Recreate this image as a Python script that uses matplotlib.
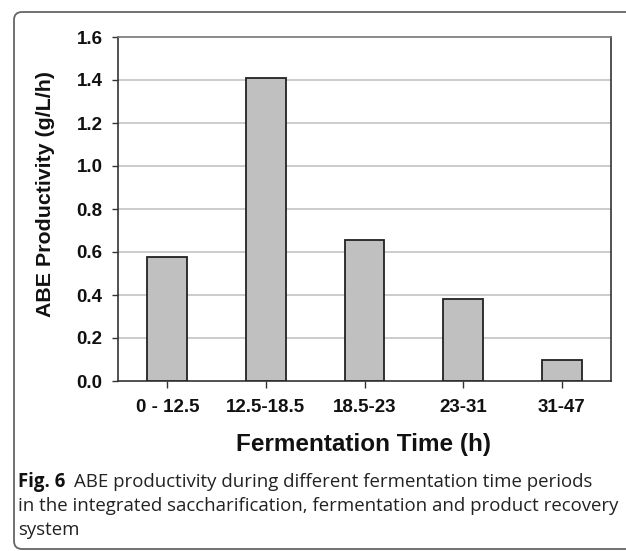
import matplotlib
matplotlib.use("Agg")
import matplotlib.pyplot as plt
from matplotlib.patches import FancyBboxPatch
from matplotlib.transforms import IdentityTransform
import numpy as np

categories = ["0 - 12.5", "12.5-18.5", "18.5-23", "23-31", "31-47"]
productivity = [0.577, 1.411, 0.654, 0.380, 0.097]
yticks = [0.0, 0.2, 0.4, 0.6, 0.8, 1.0, 1.2, 1.4, 1.6]
xlabel = "Fermentation Time (h)"
ylabel = "ABE Productivity (g/L/h)"
cap_bold = "Fig. 6"
cap_line1 = "ABE productivity during different fermentation time periods"
cap_line2 = "in the integrated saccharification, fermentation and product recovery"
cap_line3 = "system"

W, H = 626, 551
fig = plt.figure(figsize=(W / 100, H / 100), dpi=100)
fig.patch.set_facecolor("white")

# rounded frame (pixel coords)
frame = FancyBboxPatch((14, 2), 700, 537, boxstyle="round,pad=0,rounding_size=8",
                       transform=IdentityTransform(), facecolor="none",
                       edgecolor="#666666", linewidth=1.3)
fig.patches.append(frame)

ax_l, ax_r, ax_t, ax_b = 118, 611, 37, 381
ax = fig.add_axes([ax_l / W, 1 - ax_b / H, (ax_r - ax_l) / W, (ax_b - ax_t) / H])
x = np.arange(len(categories))
ax.bar(x, productivity, width=0.405, color="#c0c0c0", edgecolor="#222222",
       linewidth=1.3, zorder=3)
ax.set_xlim(-0.5, len(categories) - 0.5)
ax.set_ylim(0, 1.6)
ax.set_yticks(yticks)
ax.set_yticklabels([f"{v:.1f}" for v in yticks])
ax.set_xticks(x)
ax.set_xticklabels(categories)
for v in yticks[1:-1]:
    ax.axhline(v, color="#c8c8c8", linewidth=1.3, zorder=1)
for s in ax.spines.values():
    s.set_color("#333333")
    s.set_linewidth(1.2)
ax.spines["top"].set_color("#777777")
ax.tick_params(axis="y", direction="out", length=4, width=1, color="#333333", pad=7)
ax.tick_params(axis="x", direction="out", length=5, width=1, color="#333333", pad=8)
for lab in ax.get_xticklabels() + ax.get_yticklabels():
    lab.set_fontfamily("Liberation Sans")
    lab.set_fontweight("bold")
    lab.set_fontsize(13.5)
    lab.set_color("#111111")

fig.text(363 / W, 1 - 445 / H, xlabel, ha="center", va="center",
         fontfamily="Liberation Sans", fontweight="bold", fontsize=17.5, color="#111111")
fig.text(46 / W, 1 - 194 / H, ylabel, ha="center", va="center", rotation=90,
         fontfamily="Liberation Sans", fontweight="bold", fontsize=15.4, color="#111111")

# caption
renderer = fig.canvas.get_renderer()
cap_font = "Open Sans"
def px_width(t):
    bb = t.get_window_extent(renderer=renderer)
    return bb.width

fs = 12
t2 = fig.text(18 / W, 1 - 511 / H, cap_line2, ha="left", va="baseline",
              fontfamily=cap_font, fontsize=fs, color="#222222")
w2 = px_width(t2)
fs = fs * (597 / w2)
t2.set_fontsize(fs)
tb = fig.text(18 / W, 1 - 487 / H, cap_bold, ha="left", va="baseline",
              fontfamily=cap_font, fontweight="bold", fontsize=fs, color="#111111")
wb = px_width(tb)
fig.text((18 + wb + 9) / W, 1 - 487 / H, cap_line1, ha="left", va="baseline",
         fontfamily=cap_font, fontsize=fs, color="#222222")
fig.text(18 / W, 1 - 535 / H, cap_line3, ha="left", va="baseline",
         fontfamily=cap_font, fontsize=fs, color="#222222")

fig.savefig("out.png", dpi=100, facecolor="white")
